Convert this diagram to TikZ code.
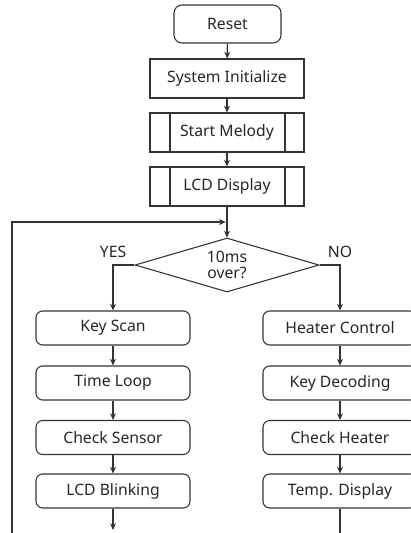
\documentclass[tikz,border=0pt]{standalone}
\usepackage{fontspec}
\setmainfont{Noto Sans}
\usetikzlibrary{arrows.meta,shapes.geometric}
\begin{document}
\begin{tikzpicture}[x=0.75pt,y=-0.75pt,
  every node/.style={font=\fontsize{11.8pt}{13pt}\selectfont, text=black!85},
  line/.style={draw=black!80, line width=0.8pt},
  arr/.style={line, -{Stealth[length=5pt,width=4.5pt]}},
  term/.style={line, rounded corners=6pt, minimum width=80.25pt, minimum height=28.5pt, inner sep=0pt},
  procbox/.style={line, minimum width=115.5pt, minimum height=29.25pt, inner sep=0pt},
  rbox/.style={line, rounded corners=5pt, minimum width=115.5pt, minimum height=25.5pt, inner sep=0pt},
  dec/.style={line, diamond, aspect=3.4, minimum width=138pt, minimum height=40.5pt, inner sep=0pt, align=center, font=\fontsize{11.8pt}{12.5pt}\selectfont}]
\useasboundingbox (0,0) rectangle (411,533);
\node[term] (reset) at (227.5,24) {Reset};
\node[procbox] (init) at (227,78.5) {System Initialize};
\node[procbox] (melody) at (227,132.5) {Start Melody};
\node[procbox] (lcd) at (227,186.5) {LCD Display};
\draw[line] (170,113) -- (170,152) (285,113) -- (285,152);
\draw[line] (170,167) -- (170,206) (285,167) -- (285,206);
\node[dec] (d) at (227,265) {10ms\\over?};
\node[rbox] (ks) at (113,328) {Key Scan};
\node[rbox] (tl) at (113,383) {Time Loop};
\node[rbox] (cs) at (113,437.5) {Check Sensor};
\node[rbox] (lb) at (113,491) {LCD Blinking};
\node[rbox] (hc) at (340,328) {Heater Control};
\node[rbox] (kd) at (340,383) {Key Decoding};
\node[rbox] (ch) at (340,437.5) {Check Heater};
\node[rbox] (td) at (340,491) {Temp. Display};
\node at (113,252) {YES};
\node at (340,252) {NO};
\coordinate (j) at (227,222);
\coordinate (lbot) at (12,533);
\coordinate (lbend) at (12,222);
\coordinate (ybot) at (113,530);
\coordinate (nbot) at (340,533);
\draw[arr] (reset) -- (init);
\draw[arr] (init) -- (melody);
\draw[arr] (melody) -- (lcd);
\draw[arr] (lcd) -- (d.north);
\draw[arr] (lbot) -- (lbend) -- ([xshift=-1pt]j);
\draw[arr] (d.west) -| (ks.north);
\draw[arr] (d.east) -| (hc.north);
\draw[arr] (ks) -- (tl);
\draw[arr] (tl) -- (cs);
\draw[arr] (cs) -- (lb);
\draw[arr] (hc) -- (kd);
\draw[arr] (kd) -- (ch);
\draw[arr] (ch) -- (td);
\draw[arr] (lb) -- (ybot);
\draw[line] (td) -- (nbot);
\end{tikzpicture}
\end{document}
